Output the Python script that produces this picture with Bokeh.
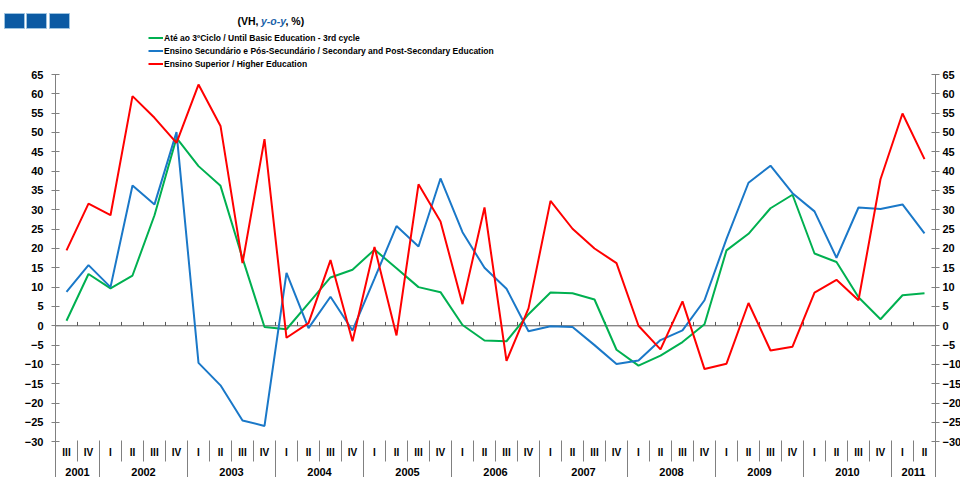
from bokeh.plotting import figure
from bokeh.models import (Range1d, LinearAxis, FixedTicker, Legend, LegendItem, Label)
from bokeh.core.properties import value
from bokeh.embed import file_html
from bokeh.resources import INLINE

# ---------------- data ----------------
quarters = ["III", "IV"] + ["I", "II", "III", "IV"] * 9 + ["I", "II"]
years = ["2001"] * 2 + [str(y) for y in range(2002, 2011) for _ in range(4)] + ["2011"] * 2

basic = [1.3, 13.4, 9.7, 13.0, 28.6, 48.6, 41.3, 36.2, 17.5, -0.3,
         -0.9, 5.8, 12.5, 14.5, 19.7, 14.9, 10.0, 8.7, 0.2, -3.8,
         -4.0, 3.0, 8.6, 8.4, 6.8, -6.2, -10.3, -7.7, -4.2, 0.4,
         19.5, 23.8, 30.4, 33.9, 18.7, 16.5, 7.4, 1.7, 7.9, 8.4]
secondary = [8.8, 15.7, 10.0, 36.3, 31.4, 50.1, -9.6, -15.4, -24.5, -25.9,
             13.7, -0.6, 7.5, -1.2, 12.2, 25.8, 20.5, 38.1, 24.2, 15.0,
             9.6, -1.4, -0.1, -0.3, -5.0, -9.9, -9.0, -3.7, -1.2, 6.6,
             22.5, 37.0, 41.4, 34.3, 29.6, 17.6, 30.6, 30.2, 31.4, 23.9]
higher = [19.5, 31.6, 28.6, 59.4, 53.8, 47.3, 62.4, 51.7, 16.2, 48.3,
          -3.1, 0.7, 17.0, -4.0, 20.4, -2.5, 36.6, 27.0, 5.6, 30.6,
          -9.1, 4.5, 32.3, 25.1, 20.0, 16.2, 0.0, -6.1, 6.3, -11.2,
          -9.8, 5.9, -6.4, -5.4, 8.6, 11.9, 6.6, 37.9, 54.9, 43.1]

series_names = ["Até ao 3ºCiclo / Until Basic Education - 3rd cycle",
                "Ensino Secundário e Pós-Secundário / Secondary and Post-Secondary Education",
                "Ensino Superior / Higher Education"]
series_colors = ["#00b050", "#1a78c8", "#ff0000"]
y_ticks = list(range(-30, 70, 5))

# ---------------- layout constants ----------------
W, H = 960, 477
PX_PER_Q = 22.0          # horizontal pixels per quarter
PX_PER_U = 3.866         # vertical pixels per percentage point
AX_LEFT_PX = 55.0        # left axis position
Y65_PX = 74.0            # pixel row of the value 65
n = len(quarters)
X0 = -0.5 - AX_LEFT_PX / PX_PER_Q
X1 = X0 + W / PX_PER_Q
Y_TOP = 65 + Y65_PX / PX_PER_U
Y_BOT = Y_TOP - H / PX_PER_U


def dx(px):
    return X0 + px / PX_PER_Q


def dy(py):
    return Y_TOP - py / PX_PER_U


FONT = "Liberation Sans"
axis_color = "#808080"

p = figure(width=W, height=H, output_backend="svg", toolbar_location=None,
           x_range=Range1d(X0, X1), y_range=Range1d(Y_BOT, Y_TOP),
           x_axis_location=None, y_axis_location=None,
           min_border_left=0, min_border_right=0, min_border_top=0, min_border_bottom=0)
p.outline_line_color = None
p.grid.visible = False
p.background_fill_color = "white"

x_left_axis, x_right_axis = -0.5, n - 0.5

for loc, side in [(x_left_axis, "left"), (x_right_axis, "right")]:
    ax = LinearAxis(ticker=FixedTicker(ticks=y_ticks), fixed_location=loc,
                    axis_line_color=None, major_tick_line_color=axis_color,
                    major_tick_in=4, major_tick_out=4, minor_tick_line_color=None,
                    major_label_standoff=8 if side == "left" else 3,
                    major_label_text_font=FONT, major_label_text_font_style="bold",
                    major_label_text_font_size="11px", major_label_text_color="black")
    p.add_layout(ax, side)

# axis lines: from the value 65 down to the bottom
p.segment(x0=[x_left_axis, x_right_axis], y0=[65, 65], x1=[x_left_axis, x_right_axis],
          y1=[Y_BOT, Y_BOT], line_color=axis_color, line_width=1)

# zero line with category ticks
p.segment(x0=[x_left_axis], y0=[0], x1=[x_right_axis], y1=[0], line_color="#595959", line_width=1)
bounds = [i + 0.5 for i in range(n - 1)]
p.segment(x0=bounds, y0=[0] * len(bounds), x1=bounds, y1=[1.0] * len(bounds),
          line_color="#595959", line_width=1)

# series
xs = list(range(n))
renderers = []
for data, col in zip([basic, secondary, higher], series_colors):
    renderers.append(p.line(xs, data, line_color=col, line_width=2))

# bottom category labels
p.text(x=xs, y=[dy(452)] * n, text=quarters, text_align="center", text_baseline="middle",
       text_font=value(FONT), text_font_style="bold", text_font_size="10px",
       text_color="black")
year_list = []
for y in years:
    if y not in year_list:
        year_list.append(y)
year_centers = [sum(i for i, yy in enumerate(years) if yy == y) / years.count(y) for y in year_list]
p.text(x=year_centers, y=[dy(471)] * len(year_list), text=year_list, text_align="center",
       text_baseline="middle", text_font=value(FONT), text_font_style="bold",
       text_font_size="11px", text_color="black")
year_bounds = [i + 0.5 for i in range(n - 1) if years[i] != years[i + 1]]
q_bounds = [b for b in bounds if b not in year_bounds]
p.segment(x0=q_bounds, y0=[dy(440)] * len(q_bounds), x1=q_bounds, y1=[dy(461)] * len(q_bounds),
          line_color=axis_color, line_width=1)
p.segment(x0=year_bounds, y0=[dy(440)] * len(year_bounds), x1=year_bounds,
          y1=[Y_BOT] * len(year_bounds), line_color=axis_color, line_width=1)

# legend (screen units from the frame's bottom-left; frame = whole canvas)
legend = Legend(items=[LegendItem(label=nm, renderers=[r]) for nm, r in zip(series_names, renderers)],
                location=(148, H - 70), orientation="vertical", glyph_width=15, glyph_height=13,
                label_height=13, label_standoff=1, spacing=0, padding=0, margin=0,
                border_line_color=None, background_fill_alpha=0,
                label_text_font=FONT, label_text_font_style="bold",
                label_text_font_size="8.5px", label_text_color="black")
p.add_layout(legend, "center")

# subtitle
for txt, xpx, align, col, style in [("(VH,", 258, "right", "black", "bold"),
                                    ("y-o-y", 273, "center", "#1a5fa8", "bold italic"),
                                    (", %)", 285, "left", "black", "bold")]:
    p.add_layout(Label(x=dx(xpx), y=dy(20), text=txt, text_align=align, text_baseline="middle",
                       text_font=FONT, text_font_style=style, text_font_size="10.5px",
                       text_color=col))

# decorative squares
sq_left = [4, 26, 49]
p.quad(left=[dx(v) for v in sq_left], right=[dx(v + 20) for v in sq_left],
       top=[dy(13)] * 3, bottom=[dy(28)] * 3, fill_color="#0b5aa3",
       line_color="#9cc3e0", line_width=1)

open("out.html", "w").write(file_html(p, INLINE))
